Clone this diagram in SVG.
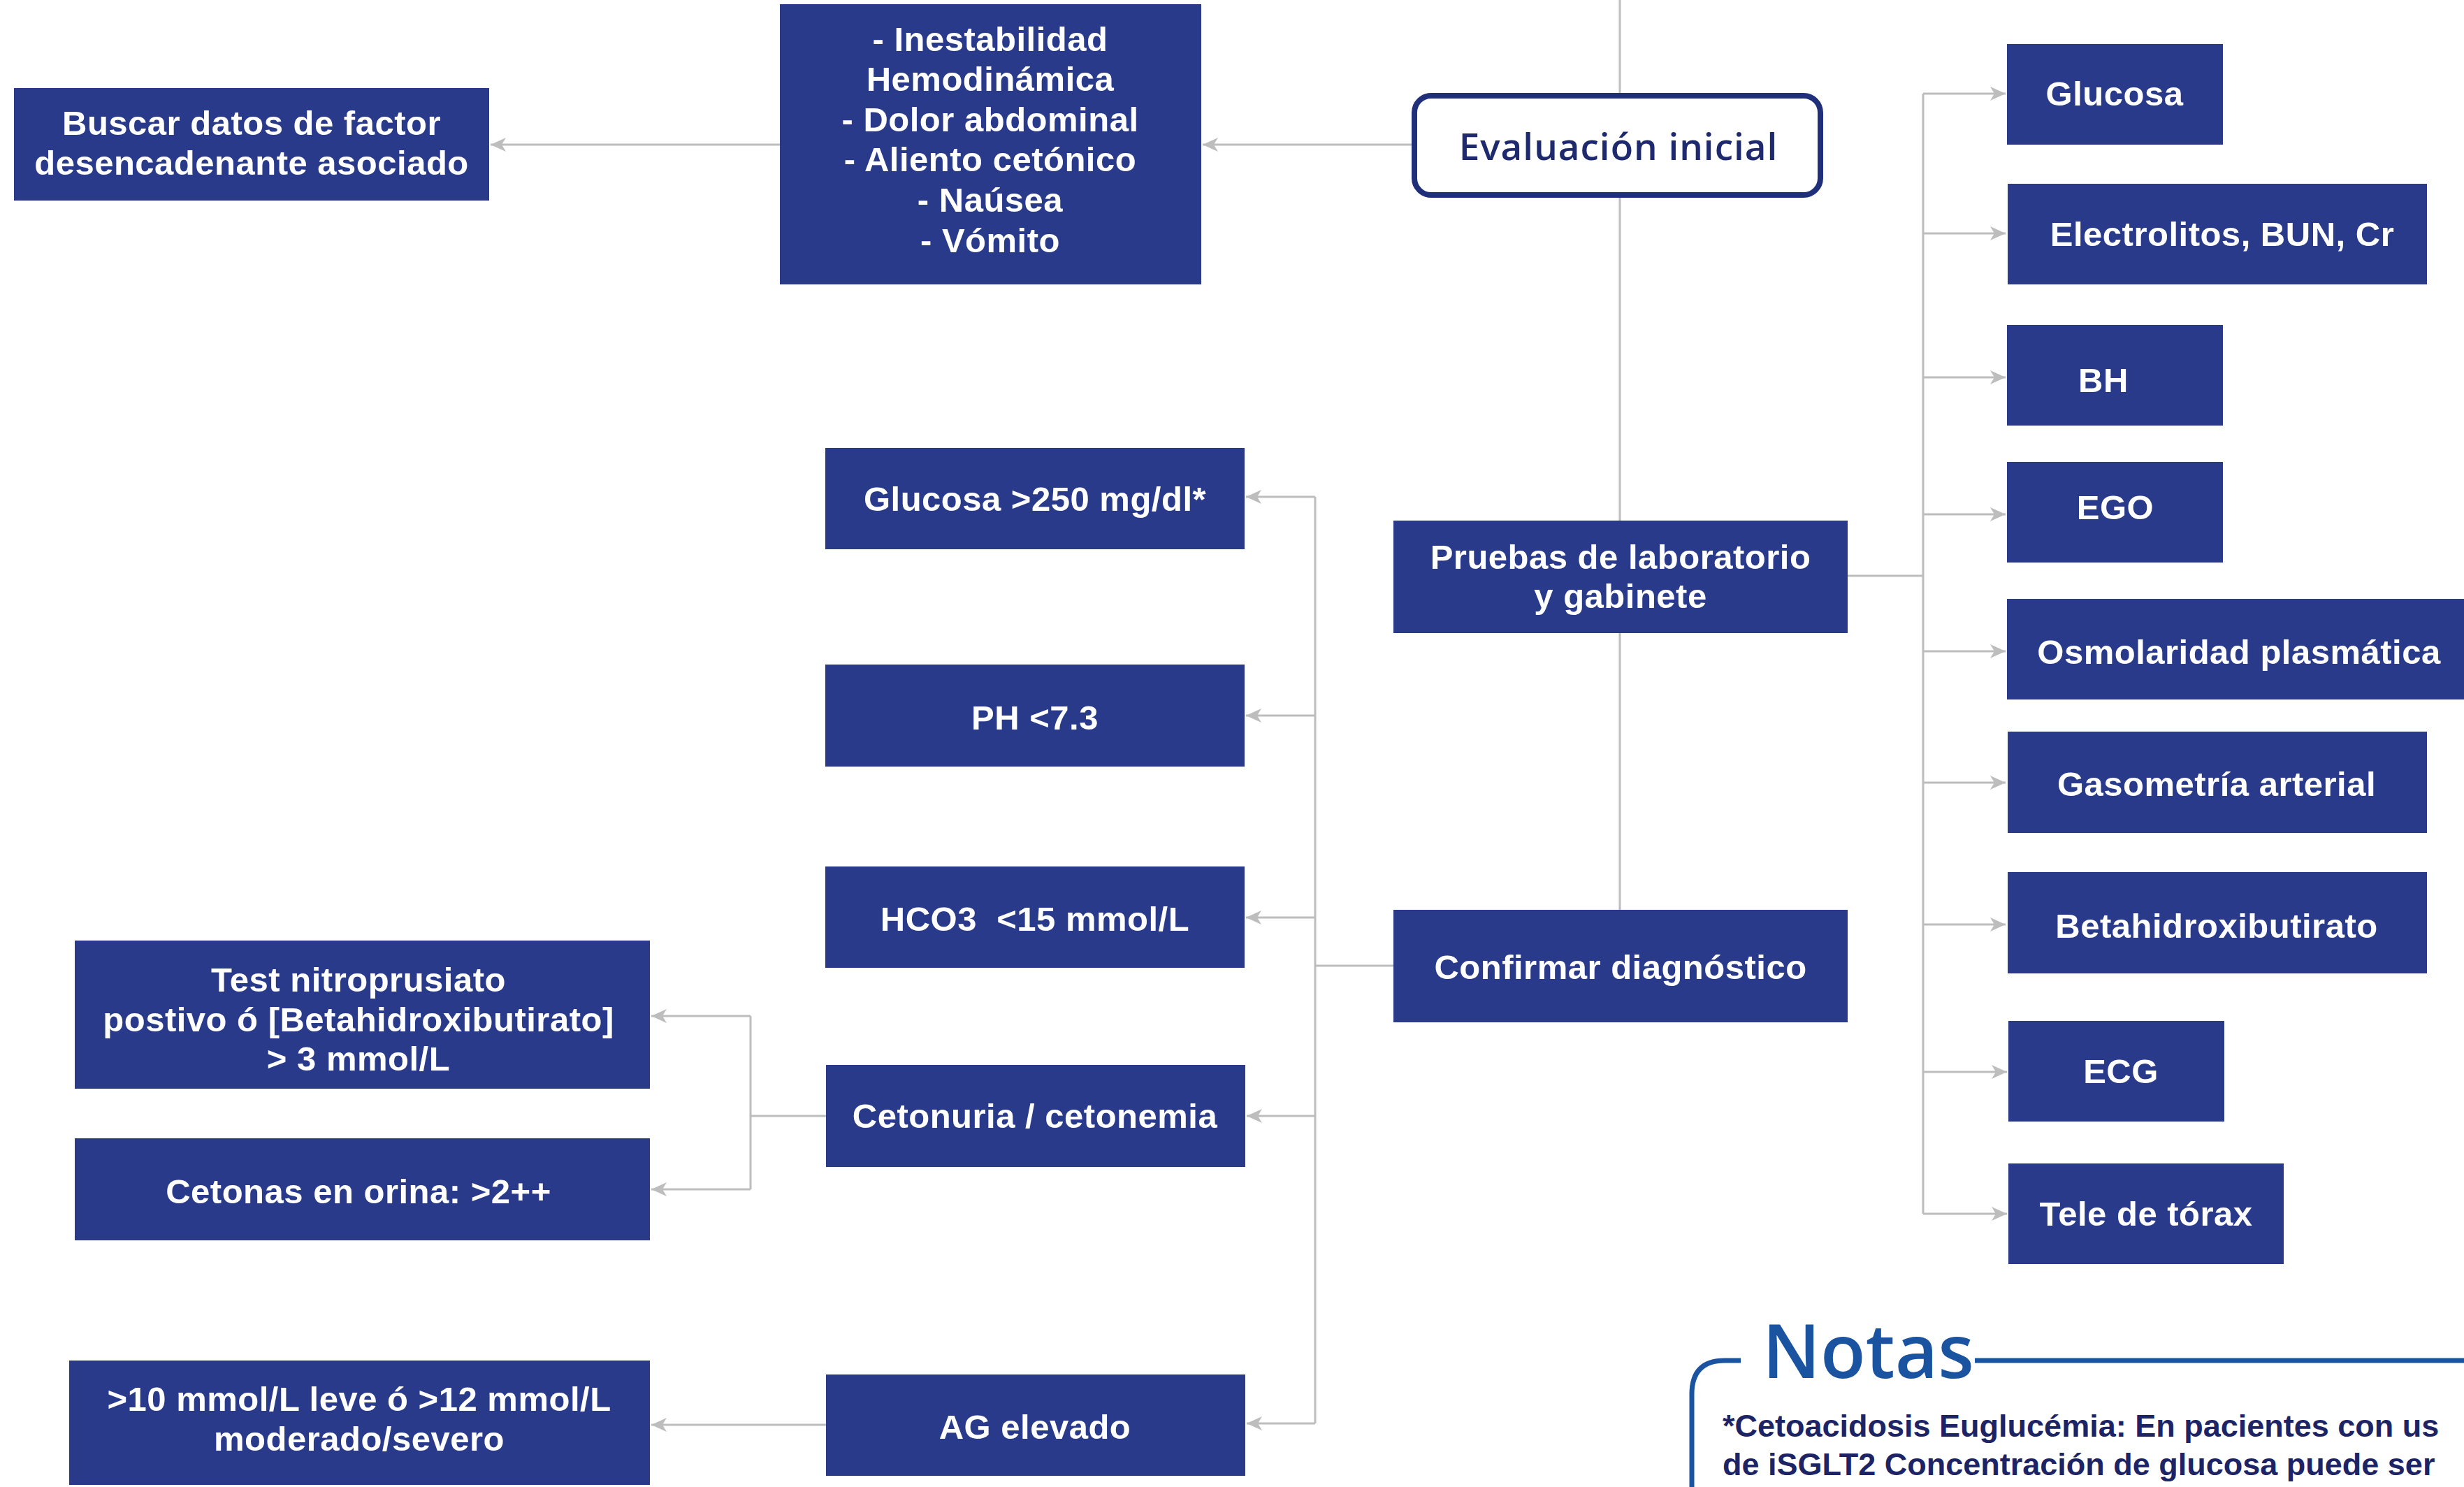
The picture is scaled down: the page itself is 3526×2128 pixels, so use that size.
<svg xmlns="http://www.w3.org/2000/svg" width="3526" height="2128" viewBox="0 0 3526 2128">
<style>
.box{fill:#293a8a;}
.t{font-family:"Liberation Sans",Arial,sans-serif;font-weight:700;font-size:49px;letter-spacing:0.5px;fill:#ffffff;text-anchor:middle;}
.ln{fill:none;stroke:#bdbdbd;stroke-width:3;}
.ar{fill:none;stroke:#bdbdbd;stroke-width:3;marker-end:url(#ah);}
.note{font-family:"Liberation Sans",Arial,sans-serif;font-weight:700;font-size:45px;fill:#1d2466;}
</style>
<defs>
<marker id="ah" markerUnits="userSpaceOnUse" markerWidth="24" markerHeight="22" refX="22" refY="10" orient="auto" viewBox="0 0 24 22">
<path d="M0,0 L22,10 L0,20 L6,10 Z" fill="#bdbdbd"/>
</marker>
</defs>
<rect width="3526" height="2128" fill="#ffffff"/>

<g id="connectors">
<line class="ln" x1="2318" y1="0" x2="2318" y2="137"/>
<line class="ln" x1="2318" y1="279" x2="2318" y2="745"/>
<line class="ln" x1="2318" y1="906" x2="2318" y2="1302"/>
<line class="ar" x1="2020" y1="207" x2="1721" y2="207"/>
<line class="ar" x1="1116" y1="207" x2="702" y2="207"/>
<polyline class="ln" points="2644,824 2752,824"/>
<line class="ln" x1="2752" y1="134" x2="2752" y2="1737"/>
<line class="ar" x1="2752" y1="134" x2="2870" y2="134"/>
<line class="ar" x1="2752" y1="334" x2="2870" y2="334"/>
<line class="ar" x1="2752" y1="540" x2="2870" y2="540"/>
<line class="ar" x1="2752" y1="736" x2="2870" y2="736"/>
<line class="ar" x1="2752" y1="932" x2="2870" y2="932"/>
<line class="ar" x1="2752" y1="1120" x2="2870" y2="1120"/>
<line class="ar" x1="2752" y1="1323" x2="2870" y2="1323"/>
<line class="ar" x1="2752" y1="1534" x2="2872" y2="1534"/>
<line class="ar" x1="2752" y1="1737" x2="2872" y2="1737"/>
<line class="ln" x1="1994" y1="1382" x2="1882" y2="1382"/>
<line class="ln" x1="1882" y1="711" x2="1882" y2="2037"/>
<line class="ar" x1="1882" y1="711" x2="1783" y2="711"/>
<line class="ar" x1="1882" y1="1024" x2="1783" y2="1024"/>
<line class="ar" x1="1882" y1="1313" x2="1783" y2="1313"/>
<line class="ar" x1="1882" y1="1597" x2="1784" y2="1597"/>
<line class="ar" x1="1882" y1="2037" x2="1784" y2="2037"/>
<line class="ln" x1="1182" y1="1597" x2="1074" y2="1597"/>
<line class="ln" x1="1074" y1="1454" x2="1074" y2="1702"/>
<line class="ar" x1="1074" y1="1454" x2="932" y2="1454"/>
<line class="ar" x1="1074" y1="1702" x2="932" y2="1702"/>
<line class="ar" x1="1182" y1="2039" x2="932" y2="2039"/>
</g>

<g id="n-evaluacion">
<rect x="2024" y="137" width="581" height="142" rx="24" fill="#ffffff" stroke="#1f2f7a" stroke-width="8"/>
<text x="2316" y="229" class="t" style="font-family:'Open Sans','Liberation Sans',sans-serif;fill:#1f2a6e;font-weight:600;font-size:53px;letter-spacing:1px">Evaluación inicial</text>
</g>
<g id="n-sintomas">
<rect class="box" x="1116" y="6" width="603" height="401"/>
<text class="t" x="1417" y="73">- Inestabilidad</text>
<text class="t" x="1417" y="130">Hemodinámica</text>
<text class="t" x="1417" y="188">- Dolor abdominal</text>
<text class="t" x="1417" y="245">- Aliento cetónico</text>
<text class="t" x="1417" y="303">- Naúsea</text>
<text class="t" x="1417" y="361">- Vómito</text>
</g>
<g id="n-buscar">
<rect class="box" x="20" y="126" width="680" height="161"/>
<text class="t" x="360" y="193">Buscar datos de factor</text>
<text class="t" x="360" y="250">desencadenante asociado</text>
</g>
<g id="n-pruebas">
<rect class="box" x="1994" y="745" width="650" height="161"/>
<text class="t" x="2319" y="814">Pruebas de laboratorio</text>
<text class="t" x="2319" y="870">y gabinete</text>
</g>
<g id="n-confirmar">
<rect class="box" x="1994" y="1302" width="650" height="161"/>
<text class="t" x="2319" y="1401">Confirmar diagnóstico</text>
</g>
<g id="n-glucosa250">
<rect class="box" x="1181" y="641" width="600" height="145"/>
<text class="t" x="1481" y="731">Glucosa &gt;250 mg/dl*</text>
</g>
<g id="n-ph">
<rect class="box" x="1181" y="951" width="600" height="146"/>
<text class="t" x="1481" y="1044">PH &lt;7.3</text>
</g>
<g id="n-hco3">
<rect class="box" x="1181" y="1240" width="600" height="145"/>
<text class="t" x="1481" y="1332" xml:space="preserve">HCO3  &lt;15 mmol/L</text>
</g>
<g id="n-cetonuria">
<rect class="box" x="1182" y="1524" width="600" height="146"/>
<text class="t" x="1481" y="1614">Cetonuria / cetonemia</text>
</g>
<g id="n-ag">
<rect class="box" x="1182" y="1967" width="600" height="145"/>
<text class="t" x="1481" y="2059">AG elevado</text>
</g>
<g id="n-test">
<rect class="box" x="107" y="1346" width="823" height="212"/>
<text class="t" x="513" y="1419">Test nitroprusiato</text>
<text class="t" x="513" y="1476">postivo ó [Betahidroxibutirato]</text>
<text class="t" x="513" y="1532">&gt; 3 mmol/L</text>
</g>
<g id="n-cetonas">
<rect class="box" x="107" y="1629" width="823" height="146"/>
<text class="t" x="513" y="1722">Cetonas en orina: &gt;2++</text>
</g>
<g id="n-mmol">
<rect class="box" x="99" y="1947" width="831" height="178"/>
<text class="t" x="514" y="2019">&gt;10 mmol/L leve ó &gt;12 mmol/L</text>
<text class="t" x="514" y="2076">moderado/severo</text>
</g>
<g id="n-glucosa">
<rect class="box" x="2872" y="63" width="309" height="144"/>
<text class="t" x="3026" y="151">Glucosa</text>
</g>
<g id="n-electrolitos">
<rect class="box" x="2873" y="263" width="600" height="144"/>
<text class="t" x="3180" y="352">Electrolitos, BUN, Cr</text>
</g>
<g id="n-bh">
<rect class="box" x="2872" y="465" width="309" height="144"/>
<text class="t" x="3010" y="561">BH</text>
</g>
<g id="n-ego">
<rect class="box" x="2872" y="661" width="309" height="144"/>
<text class="t" x="3027" y="743">EGO</text>
</g>
<g id="n-osm">
<rect class="box" x="2872" y="857" width="670" height="144"/>
<text class="t" x="3204" y="950">Osmolaridad plasmática</text>
</g>
<g id="n-gas">
<rect class="box" x="2873" y="1047" width="600" height="145"/>
<text class="t" x="3172" y="1139">Gasometría arterial</text>
</g>
<g id="n-beta">
<rect class="box" x="2873" y="1248" width="600" height="145"/>
<text class="t" x="3172" y="1342">Betahidroxibutirato</text>
</g>
<g id="n-ecg">
<rect class="box" x="2874" y="1461" width="309" height="144"/>
<text class="t" x="3035" y="1550">ECG</text>
</g>
<g id="n-tele">
<rect class="box" x="2874" y="1665" width="394" height="144"/>
<text class="t" x="3071" y="1754">Tele de tórax</text>
</g>

<g id="notas">
<path d="M2491,1947 L2468,1947 Q2421,1947 2421,1995 L2421,2128" fill="none" stroke="#1a53a0" stroke-width="7"/>
<line x1="2826" y1="1947" x2="3526" y2="1947" stroke="#1a53a0" stroke-width="7"/>
<text x="2522" y="1972" style="font-family:'Open Sans','Liberation Sans',sans-serif;font-weight:600;font-size:106px;fill:#1a53a0">Notas</text>
<text class="note" x="2465" y="2056">*Cetoacidosis Euglucémia: En pacientes con us</text>
<text class="note" x="2465" y="2111">de iSGLT2 Concentración de glucosa puede ser</text>
</g>
</svg>
